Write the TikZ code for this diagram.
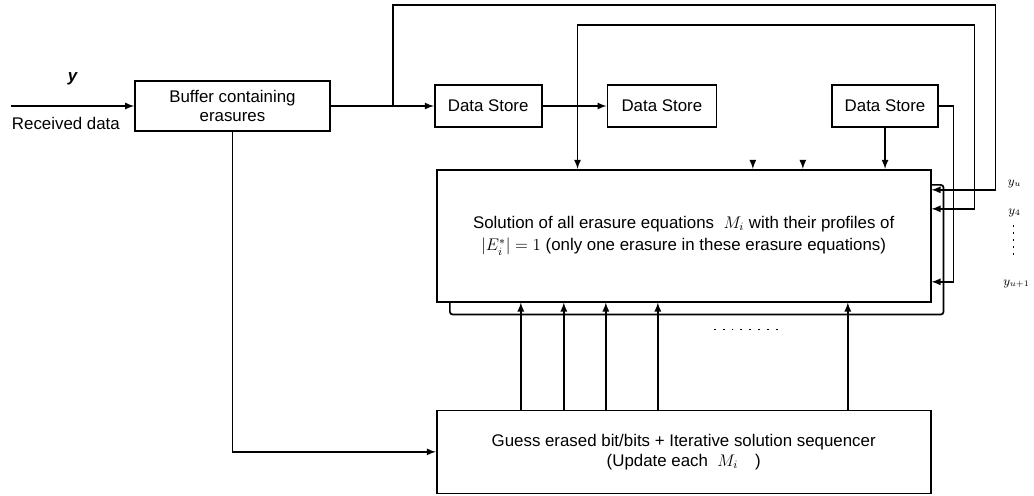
\documentclass[tikz,border=0pt]{standalone}
\usepackage{amsmath}
\usepackage{fontspec}
\setmainfont{Liberation Sans}
\usetikzlibrary{arrows, calc, positioning}

\begin{document}
\begin{tikzpicture}[>=latex, font=\large, align=center, line width=1.2pt,
    box/.style={draw, minimum height=1.05cm, inner sep=2pt},
    ylabel/.style={font=\small, inner sep=1pt}]
  \useasboundingbox (-5.8125,2.65) rectangle (20.0375,-9.725);

  \node[box, minimum width=4.875cm, minimum height=1.25cm] (buf) at (0,0) {Buffer containing\\erasures};
  \node[box, right=2.575cm of buf, minimum width=2.675cm] (ds1) {Data Store};
  \node[box, right=1.6cm of ds1, minimum width=2.725cm] (ds2) {Data Store};
  \node[box, right=2.85cm of ds2, minimum width=2.65cm] (ds3) {Data Store};

  \node[box, below right=1.025cm and 0.05cm of ds1.south west, minimum width=12.35cm, minimum height=3.3cm] (sol)
    {Solution of all erasure equations~~$M_i$ with their profiles of\\[2pt]
     $\left|E_i^{*}\right| = 1$ (only one erasure in these erasure equations)};
  \node[box, below=2.675cm of sol, minimum width=12.35cm, minimum height=2.075cm] (guess)
    {Guess erased bit/bits + Iterative solution sequencer\\(Update each~~$M_i$\quad)};

  % input
  \coordinate[left=3.075cm of buf.west] (in);
  \draw[->] (in) -- node[yshift=0.675cm] (ylab) {\bfseries\itshape y} (buf);
  \node[anchor=west, inner sep=0pt] (rxlab) at ($(in)+(0,-0.425)$) {Received data};

  \draw[->] (buf) -- (ds1);
  \draw[->] (ds1) -- (ds2);
  \draw[->] (buf) |- (guess);

  % feedback into the right side
  \coordinate[right=1.55cm of buf.east] (j1);
  \coordinate[right=0.875cm of ds1.east] (j2);
  \coordinate (yu) at ($(sol.north east)+(0,-0.525)$);
  \coordinate (ys) at ($(sol.north east)+(0,-1.0)$);
  \coordinate (ye) at ($(sol.north east)+(0,-2.825)$);
  \draw[->] (j1) -- ++(0,2.525) -| ($(yu)+(1.6,0)$) -- (yu);
  \draw[->] (j2) -- ++(0,2.025) -| ($(ys)+(1.075,0)$) -- (ys);
  \draw[->] (j2) -- (j2 |- sol.north);
  \draw[->] (ds3) -| ($(ye)+(0.55,0)$) -- (ye);
  \draw[->] (ds3) -- (ds3 |- sol.north);

  \foreach \dx [count=\i] in {7.925, 9.175} {
    \coordinate (st\i) at ($(sol.north west)+(\dx,0.2)$);
    \draw[->] (st\i) -- (st\i |- sol.north);
  }

  % sequencer outputs
  \foreach \dx [count=\i] in {2.125, 3.2, 4.25, 5.55, 10.3} {
    \coordinate (up\i) at ($(guess.north west)+(\dx,0)$);
    \draw[->] (up\i) -- (up\i |- sol.south);
  }

  % loop back from the bottom
  \coordinate (fb) at ($(sol.south west)+(0.35,0)$);
  \coordinate (fe) at ($(sol.north east)+(0,-0.4)$);
  \draw[rounded corners=2pt] (fb) -- ++(0,-0.3) -| ($(fe)+(0.3,0)$) -- (fe);

  \coordinate (dl) at ($(sol.south west)+(6.95,-0.675)$);
  \coordinate (dr) at ($(sol.south west)+(8.7,-0.675)$);
  \draw[line width=1.3pt, dash pattern=on 1.3pt off 5pt] (dl) -- (dr);

  \node[ylabel] (lyu) at ($(sol.north east)+(2.075,-0.375)$) {$y_u$};
  \node[ylabel] (ly4) at ($(sol.north east)+(2.075,-1.1)$) {$y_4$};
  \node[ylabel] (lyn) at ($(sol.north east)+(2.125,-2.875)$) {$y_{u+1}$};
  \coordinate (vt) at ($(sol.north east)+(2.05,-1.4)$);
  \coordinate (vb) at ($(sol.north east)+(2.05,-2.15)$);
  \draw[line width=1.2pt, dash pattern=on 1.2pt off 3.8pt] (vt) -- (vb);
\end{tikzpicture}
\end{document}
